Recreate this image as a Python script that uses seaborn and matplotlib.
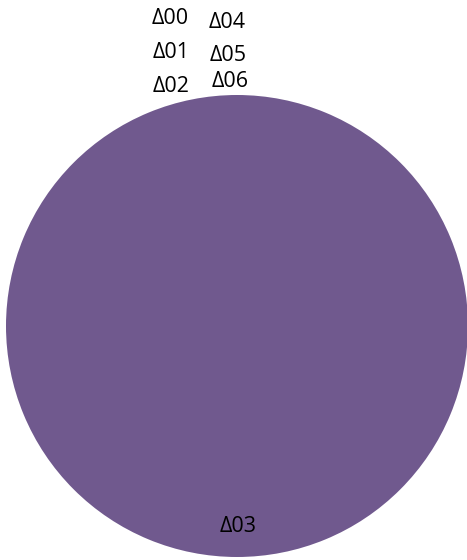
import numpy as np
import matplotlib
matplotlib.use("Agg")
import matplotlib.pyplot as plt
import seaborn as sns

# data
categories = ["Δ00", "Δ01", "Δ02", "Δ03", "Δ04", "Δ05", "Δ06"]
values = [0, 0, 0, 100, 0, 0, 0]

sns.set_theme(style="white")
plt.rcParams["font.family"] = ["Open Sans", "DejaVu Sans"]

fig = plt.figure(figsize=(4.67, 5.6), dpi=100)
# pie centre ~ (237, 326) px, radius ~231 px
ax = fig.add_axes([6 / 467, 3 / 560, 462 / 467, 462 / 560])

wedges, _ = ax.pie(values, colors=["#70598E"] * len(values),
                   startangle=90, counterclock=False,
                   wedgeprops=dict(linewidth=0))
ax.set_xlim(-1, 1)
ax.set_ylim(-1, 1)
ax.set_aspect("equal")
ax.axis("off")

# label positions in pixel space (Excel stacks the labels of empty slices)
label_px = {
    "Δ00": (170, 18), "Δ01": (171, 52), "Δ02": (171, 86),
    "Δ03": (238, 527),
    "Δ04": (227, 22), "Δ05": (228, 55), "Δ06": (230, 81),
}
for cat in categories:
    px, py = label_px[cat]
    ax.text((px - 237) / 231, (326 - py) / 231, cat, ha="center", va="center",
            fontsize=15.5, color="black", clip_on=False)

fig.savefig("out.png", dpi=100)
